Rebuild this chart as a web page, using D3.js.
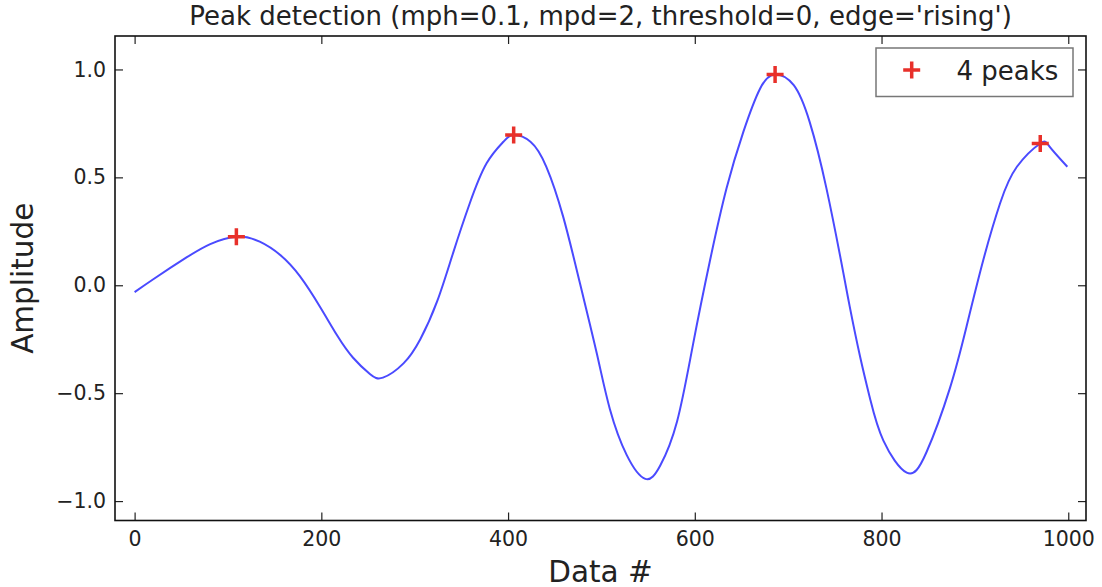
<!DOCTYPE html>
<html>
<head>
<meta charset="utf-8">
<script src="https://cdn.jsdelivr.net/npm/d3@7"></script>
<style>
  body { margin: 0; background: #fff; }
  svg { font-family: "DejaVu Sans", sans-serif; }
</style>
</head>
<body>
<svg id="chart" width="1102" height="587"></svg>
<script>
// signal (sample index, amplitude)
const sampleIdx = [0, 20, 56, 81, 109, 134, 156, 177, 199, 217, 234, 252, 266, 288, 306, 324, 341, 359, 377, 395,
  406, 424, 441, 459, 477, 495, 509, 527, 547, 563, 581, 598, 616, 634, 652, 670, 686, 706, 723, 741,
  759, 766, 777, 788, 802, 827, 848, 873, 891, 909, 927, 945, 970, 980, 999];
const amplitude = [-0.032, 0.028, 0.130, 0.191, 0.225, 0.202, 0.140, 0.042, -0.103, -0.233, -0.336, -0.411, -0.428, -0.362, -0.250, -0.075, 0.148, 0.380, 0.565, 0.665,
  0.696, 0.665, 0.549, 0.318, 0.009, -0.315, -0.573, -0.786, -0.897, -0.835, -0.631, -0.276, 0.109, 0.449, 0.711, 0.912, 0.977, 0.927, 0.757, 0.449,
  0.060, -0.100, -0.330, -0.530, -0.720, -0.868, -0.775, -0.480, -0.192, 0.117, 0.380, 0.549, 0.657, 0.642, 0.549];

// detected peaks
const peakIdx = [109, 406, 686, 970];
const peakAmp = [0.225, 0.696, 0.977, 0.657];

const xTicks = [0, 200, 400, 600, 800, 1000];
const yTicks = [-1.0, -0.5, 0.0, 0.5, 1.0];

const titleText = "Peak detection (mph=0.1, mpd=2, threshold=0, edge='rising')";
const legendLabel = peakIdx.length + " peaks";

const margin = { top: 36, right: 16, bottom: 66.5, left: 115 };
const width = 1102, height = 587;
const innerWidth = width - margin.left - margin.right;
const innerHeight = height - margin.top - margin.bottom;

const lineColor = "#4a4aff";
const peakColor = "#e8302a";

const svg = d3.select("#chart");
const g = svg.append("g").attr("transform", `translate(${margin.left},${margin.top})`);

const xScale = d3.scaleLinear().domain([-21, 1019]).range([0, innerWidth]);
const yScale = d3.scaleLinear().domain([-1.09, 1.155]).range([innerHeight, 0]);

const data = sampleIdx.map((d, i) => ({ x: d, y: amplitude[i] }));
const peaks = peakIdx.map((d, i) => ({ x: d, y: peakAmp[i] }));

// axes, ticks pointing inward like matplotlib classic
const tickLen = 8;
const styleAxis = (sel) => {
  sel.attr("font-size", 20.5).attr("font-family", "DejaVu Sans");
  sel.select(".domain").remove();
  sel.selectAll(".tick line").attr("stroke", "#222").attr("stroke-width", 1.2);
  sel.selectAll(".tick text").attr("fill", "#222");
};
const noLabels = (sel) => sel.selectAll(".tick text").remove();

g.append("g")
  .attr("transform", `translate(0,${innerHeight})`)
  .call(d3.axisBottom(xScale).tickValues(xTicks).tickFormat(d3.format("d"))
    .tickSizeInner(-tickLen).tickSizeOuter(0).tickPadding(10.5))
  .call(styleAxis);

g.append("g")
  .call(d3.axisTop(xScale).tickValues(xTicks)
    .tickSizeInner(-tickLen).tickSizeOuter(0))
  .call(styleAxis)
  .call(noLabels);

g.append("g")
  .call(d3.axisLeft(yScale).tickValues(yTicks).tickFormat(d3.format(".1f"))
    .tickSizeInner(-tickLen).tickSizeOuter(0).tickPadding(9))
  .call(styleAxis);

g.append("g")
  .attr("transform", `translate(${innerWidth},0)`)
  .call(d3.axisRight(yScale).tickValues(yTicks)
    .tickSizeInner(-tickLen).tickSizeOuter(0))
  .call(styleAxis)
  .call(noLabels);

// signal
const line = d3.line()
  .x((d) => xScale(d.x))
  .y((d) => yScale(d.y))
  .curve(d3.curveNatural);

g.append("path")
  .datum(data)
  .attr("d", line)
  .attr("fill", "none")
  .attr("stroke", lineColor)
  .attr("stroke-width", 2);

// peak markers
const plus = "M-8.5,0H8.5M0,-8.5V8.5";
g.selectAll(".peak")
  .data(peaks)
  .enter()
  .append("path")
  .attr("class", "peak")
  .attr("transform", (d) => `translate(${xScale(d.x)},${yScale(d.y)})`)
  .attr("d", plus)
  .attr("stroke", peakColor)
  .attr("stroke-width", 3.5)
  .attr("fill", "none");

// frame
g.append("rect")
  .attr("width", innerWidth)
  .attr("height", innerHeight)
  .attr("fill", "none")
  .attr("stroke", "#111")
  .attr("stroke-width", 1.6);

// legend
const legend = g.append("g").attr("transform", `translate(${innerWidth - 210},12)`);
legend.append("rect")
  .attr("width", 197)
  .attr("height", 48.5)
  .attr("fill", "#fff")
  .attr("stroke", "#777")
  .attr("stroke-width", 1.5);
legend.append("path")
  .attr("transform", "translate(35.7,22)")
  .attr("d", plus)
  .attr("stroke", peakColor)
  .attr("stroke-width", 3.5)
  .attr("fill", "none");
legend.append("text")
  .attr("x", 80.5)
  .attr("y", 32)
  .attr("fill", "#222")
  .attr("font-size", 26)
  .text(legendLabel);

// title and axis labels
svg.append("text")
  .attr("x", margin.left + innerWidth / 2)
  .attr("y", 24.5)
  .attr("text-anchor", "middle")
  .attr("fill", "#222")
  .attr("font-size", 26)
  .text(titleText);

svg.append("text")
  .attr("x", margin.left + innerWidth / 2)
  .attr("y", 582)
  .attr("text-anchor", "middle")
  .attr("fill", "#222")
  .attr("font-size", 29.5)
  .text("Data #");

svg.append("text")
  .attr("transform", `translate(33,${margin.top + innerHeight / 2}) rotate(-90)`)
  .attr("text-anchor", "middle")
  .attr("fill", "#222")
  .attr("font-size", 29.5)
  .text("Amplitude");
</script>
</body>
</html>
